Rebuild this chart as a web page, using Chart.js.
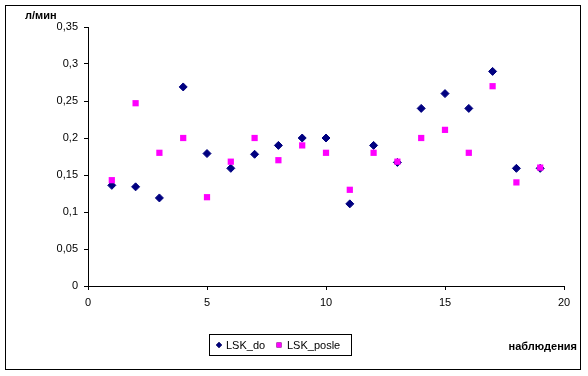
<!DOCTYPE html>
<html>
<head>
<meta charset="utf-8">
<script src="https://cdn.jsdelivr.net/npm/chart.js@4/dist/chart.umd.min.js"></script>
<style>
  html, body { margin: 0; padding: 0; background: #fff; }
  #wrap { width: 588px; height: 376px; }
</style>
</head>
<body>
<div id="wrap"><canvas id="chart" width="588" height="376"></canvas></div>
<script>
// observation numbers and the two series
const observations = [1, 2, 3, 4, 5, 6, 7, 8, 9, 10, 11, 12, 13, 14, 15, 16, 17, 18, 19];
const lskDo = [0.136, 0.134, 0.119, 0.269, 0.179, 0.159, 0.178, 0.19, 0.2, 0.2,
               0.111, 0.19, 0.167, 0.24, 0.26, 0.24, 0.29, 0.159, 0.159];
const lskPosle = [0.143, 0.247, 0.18, 0.2, 0.12, 0.168, 0.2, 0.17, 0.19, 0.18,
                  0.13, 0.18, 0.168, 0.2, 0.211, 0.18, 0.27, 0.14, 0.16];
const seriesNames = ['LSK_do', 'LSK_posle'];
const yTitle = 'л/мин';
const xTitle = 'наблюдения';

const FONT = '"Liberation Sans", Arial, sans-serif';

function toPoints(ys) {
  return observations.map((x, i) => ({ x: x, y: ys[i] }));
}

// frame, axis titles and legend box like the Excel original
const decorPlugin = {
  id: 'decor',
  beforeDraw(chart) {
    const ctx = chart.ctx;
    ctx.save();
    ctx.fillStyle = '#fff';
    ctx.fillRect(0, 0, chart.width, chart.height);
    ctx.restore();
  },
  afterDraw(chart) {
    const ctx = chart.ctx;
    ctx.save();
    ctx.strokeStyle = '#000';
    ctx.lineWidth = 1;
    ctx.strokeRect(5.5, 5.5, 575, 364);

    ctx.fillStyle = '#000';
    ctx.font = 'bold 11px ' + FONT;
    ctx.textBaseline = 'alphabetic';
    ctx.textAlign = 'left';
    ctx.fillText(yTitle, 25, 19);
    ctx.textAlign = 'right';
    ctx.fillText(xTitle, 577, 350);

    // legend
    ctx.strokeRect(209.5, 334.5, 142, 21);
    ctx.font = '11px ' + FONT;
    ctx.textAlign = 'left';
    ctx.textBaseline = 'middle';
    const metas = chart.data.datasets;
    const markX = [219, 279];
    const textX = [226, 287];
    const markR = [3, 3.5];
    metas.forEach((ds, i) => {
      Chart.helpers.drawPoint(ctx, {
        pointStyle: ds.pointStyle,
        radius: markR[i],
        borderWidth: 0
      }, markX[i], 345);
      ctx.fillStyle = ds.backgroundColor;
      ctx.fill();
      ctx.fillStyle = '#000';
      ctx.fillText(ds.label, textX[i], 345.5);
    });
    ctx.restore();
  }
};

const axisLook = {
  grid: { display: true, drawOnChartArea: false, drawTicks: true, tickLength: 4, color: '#000', lineWidth: 1 },
  border: { display: true, color: '#000', width: 1 }
};

new Chart(document.getElementById('chart'), {
  type: 'scatter',
  data: {
    datasets: [
      {
        label: seriesNames[0],
        data: toPoints(lskDo),
        pointStyle: 'rectRot',
        pointRadius: 4,
        pointBorderWidth: 1,
        backgroundColor: '#000080',
        borderColor: '#000080',
        order: 1
      },
      {
        label: seriesNames[1],
        data: toPoints(lskPosle),
        pointStyle: 'rect',
        pointRadius: 4.4,
        pointBorderWidth: 0,
        backgroundColor: '#ff00ff',
        borderColor: '#ff00ff',
        order: 0
      }
    ]
  },
  options: {
    responsive: false,
    animation: false,
    layout: { padding: { left: 0, top: 27, right: 24, bottom: 0 } },
    plugins: {
      legend: { display: false },
      tooltip: { enabled: false }
    },
    scales: {
      x: {
        type: 'linear',
        min: 0,
        max: 20,
        ...axisLook,
        ticks: { stepSize: 5, color: '#000', font: { family: FONT, size: 11 }, padding: 6, maxRotation: 0 },
        afterFit(scale) { scale.height = 90; }
      },
      y: {
        type: 'linear',
        min: 0,
        max: 0.35,
        ...axisLook,
        ticks: {
          stepSize: 0.05,
          color: '#000',
          font: { family: FONT, size: 11 },
          padding: 6,
          callback: v => String(Number(v.toFixed(2))).replace('.', ',')
        },
        afterFit(scale) { scale.width = 88; }
      }
    }
  },
  plugins: [decorPlugin]
});
</script>
</body>
</html>
